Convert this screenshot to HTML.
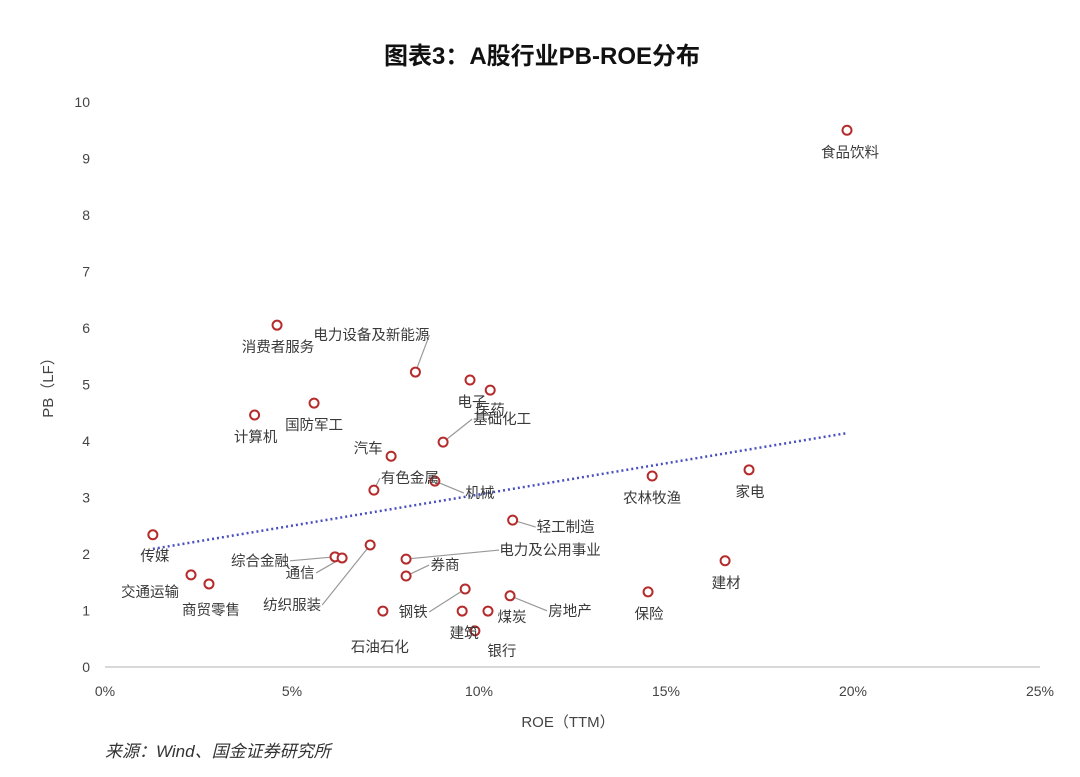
<!DOCTYPE html>
<html><head><meta charset="utf-8"><style>
body{margin:0;background:#fff;}
svg text{font-family:"Liberation Sans","Noto Sans CJK SC",sans-serif;}
</style></head><body>
<svg width="1080" height="772" xmlns="http://www.w3.org/2000/svg">
<text x="542" y="64" text-anchor="middle" font-size="24" font-weight="bold" fill="#111">图表3：A股行业PB-ROE分布</text>
<g id="axes"></g>
<g id="trend"></g>
<g id="leaders"></g>
<g id="points"></g>
<g id="labels"></g>
<text transform="translate(53,384) rotate(-90)" text-anchor="middle" font-size="15" fill="#444">PB（LF）</text>
<text x="568" y="727" text-anchor="middle" font-size="15" fill="#444">ROE（TTM）</text>
<text x="105" y="757" font-size="17" font-style="italic" fill="#333">来源：Wind、国金证券研究所</text>
</svg>
<script>
const industries=["食品饮料","消费者服务","电力设备及新能源","电子","医药","基础化工","计算机","国防军工","汽车","有色金属","机械","轻工制造","综合金融","通信","纺织服装","电力及公用事业","券商","石油石化","钢铁","建筑","煤炭","房地产","银行","传媒","交通运输","商贸零售","农林牧渔","家电","建材","保险"];
const roe=[19.84,4.6,8.3,9.76,10.3,9.04,4.0,5.59,7.65,7.19,8.82,10.9,6.15,6.34,7.09,8.05,8.05,7.43,9.63,9.55,10.24,10.83,9.89,1.28,2.3,2.78,14.63,17.22,16.58,14.52];
const pb=[9.5,6.05,5.22,5.08,4.9,3.98,4.46,4.67,3.73,3.13,3.29,2.6,1.95,1.93,2.16,1.91,1.61,0.99,1.38,0.99,0.99,1.26,0.64,2.34,1.63,1.47,3.38,3.49,1.88,1.33];
const xTicks=[0,5,10,15,20,25];
const yTicks=[0,1,2,3,4,5,6,7,8,9,10];
const trendX=[1.28,19.84];
const trendY=[2.09,4.14];
// label offsets (styling, px)
const ldx=[3,1,-44,2,0,59,1,0,-23,36,45,53,-75,-42,-78,144,39,-3,-52,2,24,60,27,2,-41,2,0,1,1,1];
const ldy=[27,27,-32,27,25,-18,27,27,-3,-7,17,12,9,20,65,-4,-6,41,28,27,11,20,25,26,22,31,27,27,27,27];
const leader=[0,0,1,0,0,1,0,0,0,1,1,1,1,1,1,1,1,0,1,0,0,1,0,0,0,0,0,0,0,0];
const X=v=>105+v*37.4, Y=v=>667-v*56.5;
const NS="http://www.w3.org/2000/svg";
function mk(p,t,a){const e=document.createElementNS(NS,t);for(const k in a)e.setAttribute(k,a[k]);document.getElementById(p).appendChild(e);return e;}
let ax=mk("axes","line",{x1:105,y1:667,x2:1040,y2:667,stroke:"#ccc","stroke-width":1.5});


yTicks.forEach(v=>{const t=mk("axes","text",{x:90,y:Y(v)+5,"text-anchor":"end","font-size":14,fill:"#444"});t.textContent=v;

});
xTicks.forEach(v=>{const t=mk("axes","text",{x:X(v),y:696,"text-anchor":"middle","font-size":14,fill:"#444"});t.textContent=v+"%";

});
const tl=mk("trend","line",{x1:X(trendX[0]),y1:Y(trendY[0]),x2:X(trendX[1]),y2:Y(trendY[1]),stroke:"#4a4fc0","stroke-width":2.5,"stroke-dasharray":"2 3"});


industries.forEach((n,i)=>{
 const cx=X(roe[i]),cy=Y(pb[i]);
 const c=mk("points","circle",{cx:cx,cy:cy,r:4.5,fill:"#fff",stroke:"#b52b2b","stroke-width":2});
 
 
 const lx=cx+ldx[i],ly=cy+ldy[i];
 if(leader[i]){
  const l=mk("leaders","line",{x1:cx,y1:cy,x2:lx+(ldx[i]>0?-n.length*7-2:n.length*7+2),y2:ly-5,stroke:"#999","stroke-width":1.2});
  
  
 }
 const t=mk("labels","text",{x:lx,y:ly,"text-anchor":"middle","font-size":14.5,fill:"#3a3a3a"});
 t.textContent=n;
 
 
});
</script>
</body></html>
